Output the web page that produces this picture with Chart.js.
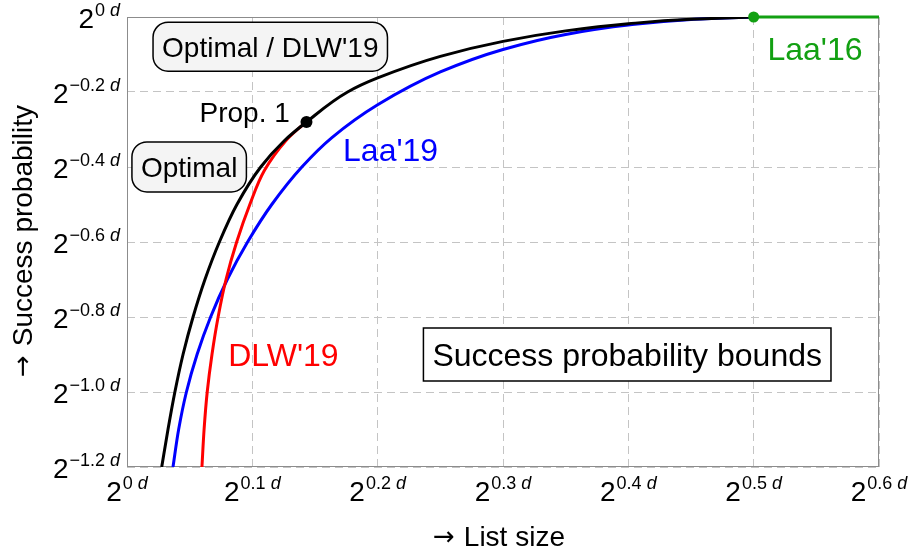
<!DOCTYPE html>
<html>
<head>
<meta charset="utf-8">
<title>Success probability bounds</title>
<script src="https://cdn.jsdelivr.net/npm/chart.js@4.4.1/dist/chart.umd.min.js"></script>
<style>
  html, body { margin: 0; padding: 0; background: #fff; }
  canvas { display: block; }
</style>
</head>
<body>
<canvas id="chart" width="913" height="557"></canvas>
<script>
// exponents: list size 2^(x d), success probability 2^(y d)
const optimalY = [-1.2, -1.1, -1.0, -0.9, -0.8, -0.7, -0.6, -0.5, -0.4, -0.33, -0.28, -0.2, -0.1625, -0.105, -0.065, -0.037, -0.018, -0.006, 0];
const optimalX = [0.0277, 0.0327, 0.0382, 0.0447, 0.0527, 0.0622, 0.0737, 0.0877, 0.1067, 0.1255, 0.1432, 0.176, 0.2, 0.25, 0.3, 0.35, 0.4, 0.45, 0.5];

const dlwY = [-1.2, -1.1, -1.0, -0.9, -0.8, -0.7, -0.6, -0.5, -0.41, -0.33, -0.3, -0.28];
const dlwX = [0.0598, 0.0615, 0.064, 0.0678, 0.0727, 0.079, 0.0875, 0.098, 0.1095, 0.1267, 0.136, 0.1432];

const laa19Y = [-1.2, -1.1, -1.0, -0.9, -0.8, -0.7, -0.6, -0.5, -0.4, -0.3215, -0.234, -0.1465, -0.0865, -0.0465, -0.0215, -0.0065, 0];
const laa19X = [0.0367, 0.0412, 0.0474, 0.0559, 0.0667, 0.08, 0.0962, 0.1155, 0.1395, 0.1635, 0.2, 0.25, 0.3, 0.35, 0.4, 0.45, 0.5];

const laa16X = [0.5, 0.6];
const laa16Y = [0, 0];

const prop1 = { x: 0.1432, y: -0.28 };

const xTickValues = [0, 0.1, 0.2, 0.3, 0.4, 0.5, 0.6];
const xTickLabels = ['0', '0.1', '0.2', '0.3', '0.4', '0.5', '0.6'];
const yTickValues = [0, -0.2, -0.4, -0.6, -0.8, -1.0, -1.2];
const yTickLabels = ['0', '\u22120.2', '\u22120.4', '\u22120.6', '\u22120.8', '\u22121.0', '\u22121.2'];

const FONT = "'Liberation Sans', Arial, sans-serif";
const ARROW_FONT = "'DejaVu Sans', sans-serif";
const GREEN = '#12a012';

function pts(xs, ys) {
  return xs.map((x, i) => ({ x: x, y: ys[i] }));
}

// labels placed in data coordinates
const notes = [
  { text: "Optimal / DLW'19", x: 0.1143, y: -0.0793, box: 'round', size: 28, h: 49 },
  { text: 'Optimal', x: 0.0496, y: -0.3997, box: 'round', size: 28, h: 50 },
  { text: 'Success probability bounds', x: 0.3991, y: -0.900, box: 'square', size: 32, h: 53 },
  { text: 'Prop. 1', x: 0.1299, y: -0.28, align: 'right', size: 28, color: '#000' },
  { text: "Laa'19", x: 0.1724, y: -0.3837, align: 'left', size: 32, color: '#0000ff' },
  { text: "DLW'19", x: 0.0807, y: -0.9319, align: 'left', size: 32, color: '#ff0000' },
  { text: "Laa'16", x: 0.511, y: -0.1158, align: 'left', size: 32, color: GREEN },
];

function powerLabel(ctx, exp, px, baseY, align) {
  ctx.font = '28px ' + FONT;
  const w2 = ctx.measureText('2').width;
  ctx.font = '18px ' + FONT;
  const we = ctx.measureText(exp).width;
  ctx.font = 'italic 18px ' + FONT;
  const wd = ctx.measureText('d').width;
  const total = w2 + 1 + we + 5 + wd;
  let left = align === 'right' ? px - total : px - total / 2;
  ctx.textAlign = 'left';
  ctx.textBaseline = 'alphabetic';
  ctx.fillStyle = '#000';
  ctx.font = '28px ' + FONT;
  ctx.fillText('2', left, baseY);
  left += w2 + 1;
  ctx.font = '18px ' + FONT;
  ctx.fillText(exp, left, baseY - 12);
  left += we + 5;
  ctx.font = 'italic 18px ' + FONT;
  ctx.fillText('d', left, baseY - 12);
}

// "→ title" centred on (0, 0) of the current transform
function arrowTitle(ctx, text) {
  ctx.font = '26px ' + ARROW_FONT;
  const wa = ctx.measureText('\u2192').width;
  ctx.font = '28px ' + FONT;
  const wt = ctx.measureText(text).width;
  const gap = 9;
  let left = -(wa + gap + wt) / 2;
  ctx.textAlign = 'left';
  ctx.textBaseline = 'alphabetic';
  ctx.fillStyle = '#000';
  ctx.font = '26px ' + ARROW_FONT;
  ctx.fillText('\u2192', left, -1);
  ctx.font = '28px ' + FONT;
  ctx.fillText(text, left + wa + gap, 0);
}

const decor = {
  id: 'decor',
  beforeDatasetsDraw(chart) {
    const { ctx, chartArea: a } = chart;
    ctx.save();
    ctx.strokeStyle = '#8c8c8c';
    ctx.lineWidth = 1;
    ctx.strokeRect(Math.round(a.left) + 0.5, Math.round(a.top) + 0.5,
      Math.round(a.right - a.left) - 1, Math.round(a.bottom - a.top) - 1);
    ctx.restore();
  },
  afterDatasetsDraw(chart) {
    const { ctx, chartArea: a, scales: { x, y } } = chart;
    ctx.save();

    // tick labels
    xTickValues.forEach((v, i) => {
      powerLabel(ctx, xTickLabels[i], x.getPixelForValue(v), a.bottom + 34, 'center');
    });
    yTickValues.forEach((v, i) => {
      powerLabel(ctx, yTickLabels[i], a.left - 7, y.getPixelForValue(v) + 11, 'right');
    });

    // axis titles
    ctx.save();
    ctx.translate((a.left + a.right) / 2 - 4, a.bottom + 79);
    arrowTitle(ctx, 'List size');
    ctx.restore();
    ctx.save();
    ctx.translate(32, (a.top + a.bottom) / 2 - 1);
    ctx.rotate(-Math.PI / 2);
    arrowTitle(ctx, 'Success probability');
    ctx.restore();

    // annotations
    notes.forEach(n => {
      const px = x.getPixelForValue(n.x);
      const py = y.getPixelForValue(n.y);
      ctx.font = n.size + 'px ' + FONT;
      if (n.box) {
        const tw = ctx.measureText(n.text).width;
        const w = tw + 18;
        ctx.beginPath();
        if (n.box === 'round') {
          ctx.roundRect(px - w / 2, py - n.h / 2, w, n.h, 15);
          ctx.fillStyle = '#f4f4f4';
        } else {
          ctx.rect(px - w / 2, py - n.h / 2, w, n.h);
          ctx.fillStyle = '#fff';
        }
        ctx.fill();
        ctx.strokeStyle = '#000';
        ctx.lineWidth = 1.5;
        ctx.stroke();
        ctx.fillStyle = '#000';
        ctx.textAlign = 'center';
        ctx.textBaseline = 'alphabetic';
        ctx.fillText(n.text, px, py + n.size * 0.36);
      } else {
        ctx.fillStyle = n.color;
        ctx.textAlign = n.align;
        ctx.textBaseline = 'alphabetic';
        ctx.fillText(n.text, px, py);
      }
    });
    ctx.restore();
  }
};

// curves are smooth in x as a function of y, so interpolate along y
const curve = (label, xs, ys, color) => ({
  label: label,
  data: pts(xs, ys),
  borderColor: color,
  borderWidth: 3,
  pointRadius: 0,
  indexAxis: 'y',
  cubicInterpolationMode: 'monotone',
});

const ctx = document.getElementById('chart').getContext('2d');
new Chart(ctx, {
  type: 'line',
  data: {
    datasets: [
      {
        label: 'Prop. 1',
        data: [prop1],
        showLine: false,
        pointRadius: 6,
        pointBackgroundColor: '#000',
        pointBorderWidth: 0,
        clip: false,
      },
      {
        label: "Laa'16 point",
        data: [{ x: laa16X[0], y: laa16Y[0] }],
        showLine: false,
        pointRadius: 5.5,
        pointBackgroundColor: GREEN,
        pointBorderWidth: 0,
        clip: false,
      },
      curve('Optimal', optimalX, optimalY, '#000'),
      curve("DLW'19", dlwX, dlwY, '#ff0000'),
      curve("Laa'19", laa19X, laa19Y, '#0000ff'),
      {
        label: "Laa'16",
        data: pts(laa16X, laa16Y),
        borderColor: GREEN,
        borderWidth: 3,
        pointRadius: 0,
        clip: false,
      },
    ],
  },
  options: {
    responsive: false,
    animation: false,
    layout: { padding: { left: 127, top: 17, right: 34, bottom: 90 } },
    plugins: {
      legend: { display: false },
      tooltip: { enabled: false },
    },
    scales: {
      x: {
        type: 'linear',
        min: 0,
        max: 0.6,
        afterBuildTicks: s => { s.ticks = xTickValues.map(v => ({ value: v })); },
        ticks: { display: false },
        grid: { color: '#c4c4c4', lineWidth: 1, drawTicks: false },
        border: { display: false, dash: [8, 5] },
      },
      y: {
        type: 'linear',
        min: -1.2,
        max: 0,
        afterBuildTicks: s => { s.ticks = yTickValues.map(v => ({ value: v })); },
        ticks: { display: false },
        grid: { color: '#c4c4c4', lineWidth: 1, drawTicks: false },
        border: { display: false, dash: [8, 5] },
      },
    },
  },
  plugins: [decor],
});
</script>
</body>
</html>
